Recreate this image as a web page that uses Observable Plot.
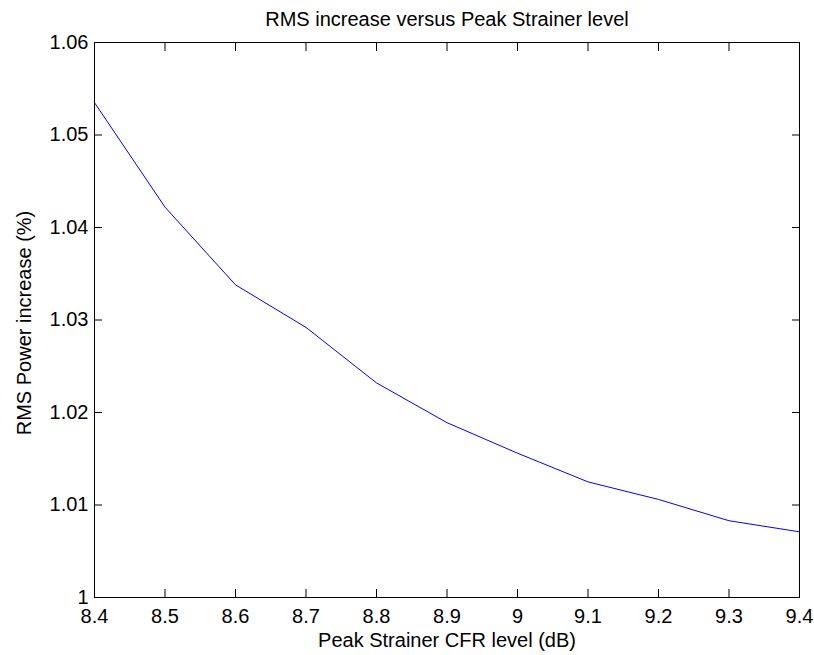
<!DOCTYPE html>
<html>
<head>
<meta charset="utf-8">
<script src="https://cdn.jsdelivr.net/npm/d3@7"></script>
<script src="https://cdn.jsdelivr.net/npm/@observablehq/plot@0.6"></script>
<style>
  html, body { margin: 0; padding: 0; background: #fff; }
  #chart { width: 814px; height: 655px; }
</style>
</head>
<body>
<div id="chart"></div>
<script>
const titleText = "RMS increase versus Peak Strainer level";
const xLabelText = "Peak Strainer CFR level (dB)";
const yLabelText = "RMS Power increase (%)";

const cfrLevel = [8.4, 8.5, 8.6, 8.7, 8.8, 8.9, 9.0, 9.1, 9.2, 9.3, 9.4];
const rmsIncrease = [1.0535, 1.0422, 1.0338, 1.0292, 1.0232, 1.0189, 1.0156, 1.0125, 1.0106, 1.0083, 1.0071];

const xTicks = [8.4, 8.5, 8.6, 8.7, 8.8, 8.9, 9.0, 9.1, 9.2, 9.3, 9.4];
const yTicks = [1.00, 1.01, 1.02, 1.03, 1.04, 1.05, 1.06];

const data = cfrLevel.map((x, i) => ({x, y: rmsIncrease[i]}));
const fmtX = d => String(+d.toFixed(1));
const fmtY = d => String(+d.toFixed(2));
const FONT = "'Liberation Sans', Arial, Helvetica, sans-serif";

const chart = Plot.plot({
  width: 814,
  height: 655,
  marginLeft: 94,
  marginRight: 15,
  marginTop: 42,
  marginBottom: 58,
  style: {fontFamily: FONT, fontSize: "20px", background: "#fff", color: "#000"},
  x: {domain: [8.4, 9.4]},
  y: {domain: [1.0, 1.06]},
  marks: [
    Plot.line(data, {x: "x", y: "y", stroke: "#0000ff", strokeWidth: 1}),
    Plot.frame({stroke: "#000", strokeWidth: 1}),
    // inward tick marks on all four sides (shifted into the frame)
    Plot.axisX(xTicks, {anchor: "bottom", tickSize: 8, dy: -8, text: null, label: null, stroke: "#000"}),
    Plot.axisX(xTicks, {anchor: "top", tickSize: 8, dy: 8, text: null, label: null, stroke: "#000"}),
    Plot.axisY(yTicks, {anchor: "left", tickSize: 8, dx: 8, text: null, label: null, stroke: "#000"}),
    Plot.axisY(yTicks, {anchor: "right", tickSize: 8, dx: -8, text: null, label: null, stroke: "#000"}),
    // tick labels
    Plot.axisX(xTicks, {anchor: "bottom", tickSize: 0, tickPadding: 11, tickFormat: fmtX, label: null, fontSize: 20, fill: "#000"}),
    Plot.axisY(yTicks, {anchor: "left", tickSize: 0, tickPadding: 6, tickFormat: fmtY, label: null, fontSize: 20, fill: "#000"}),
    // title and axis labels
    Plot.text([titleText], {frameAnchor: "top", lineAnchor: "bottom", dy: -17, text: d => d, fontSize: 20, fill: "#000"}),
    Plot.text([xLabelText], {frameAnchor: "bottom", lineAnchor: "bottom", dy: 49, text: d => d, fontSize: 20, fill: "#000"}),
    Plot.text([yLabelText], {frameAnchor: "left", textAnchor: "middle", lineAnchor: "bottom", rotate: -90, dx: -64, dy: 3, text: d => d, fontSize: 20, fill: "#000"})
  ]
});
document.getElementById("chart").appendChild(chart);
</script>
</body>
</html>
